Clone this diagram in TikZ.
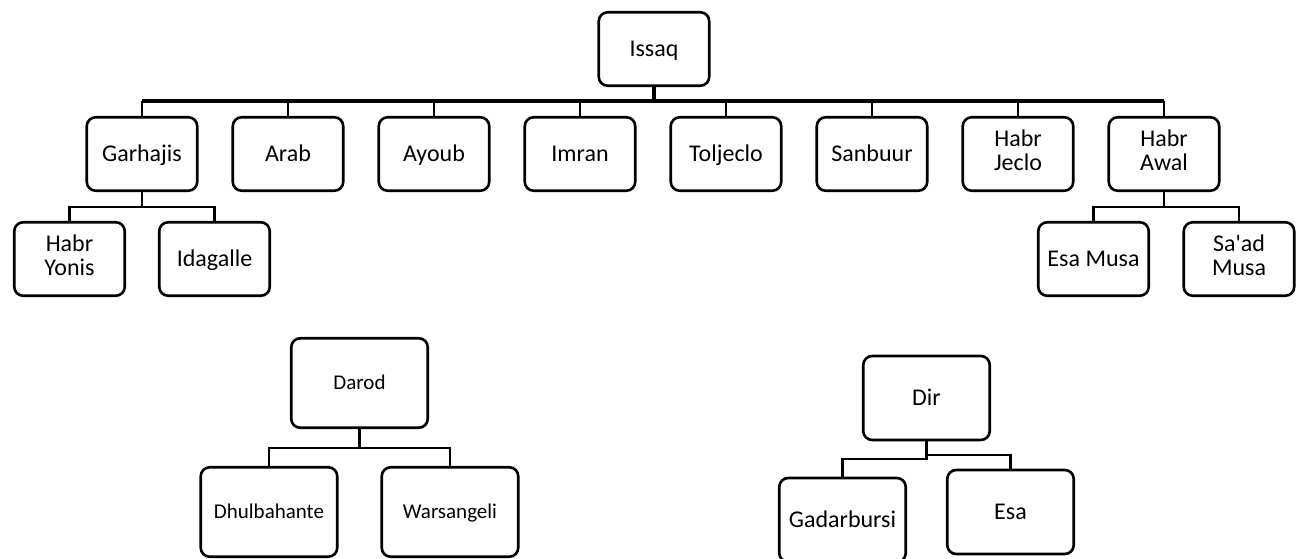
\documentclass[tikz,border=0pt]{standalone}
\usepackage{fontspec}
\setmainfont{Carlito}
\usepackage{tikz}
\usetikzlibrary{positioning, calc}

\tikzset{
  clan/.style={draw, line width=2.6pt, rounded corners=9pt, align=center,
    minimum width=110.5pt, minimum height=73.5pt, inner sep=2pt,
    font=\fontsize{24}{24.5}\selectfont,
    execute at begin node={\rule{0pt}{0.95em}},
    execute at end node={\rule[-0.31em]{0pt}{0.31em}}},
  bigclan/.style={clan, minimum width=136.5pt, minimum height=89.5pt,
    font=\fontsize{21}{23}\selectfont},
  dirclan/.style={clan, minimum width=126.5pt, minimum height=84pt},
  link/.style={line width=2.4pt},
  bus/.style={line width=3.8pt}
}

\begin{document}
\begin{tikzpicture}[x=1pt, y=-1pt]
\useasboundingbox (0,0) rectangle (1297,558);
% Issaq tree
\node[clan] (issaq) at (654,49) {Issaq};
\node[clan] (garhajis) at (142,154) {Garhajis};
\node[clan] (arab) at (288,154) {Arab};
\node[clan] (ayoub) at (434,154) {Ayoub};
\node[clan] (imran) at (580,154) {Imran};
\node[clan] (toljeclo) at (726,154) {Toljeclo};
\node[clan] (sanbuur) at (872,154) {Sanbuur};
\node[clan] (habrjeclo) at (1018,154) {Habr\\Jeclo};
\node[clan] (habrawal) at (1164,154) {Habr\\Awal};
\node[clan] (habryonis) at (69.5,259) {Habr\\Yonis};
\node[clan] (idagalle) at (214.5,259) {Idagalle};
\node[clan] (esamusa) at (1093.5,259) {Esa Musa};
\node[clan] (saadmusa) at (1239,259) {Sa\textquotesingle ad\\Musa};
\coordinate (bus) at (654,101);
\draw[bus] (issaq.south) -- (bus);
\draw[bus] (garhajis.north |- bus) -- (habrawal.north |- bus);
\foreach \n in {garhajis,arab,ayoub,imran,toljeclo,sanbuur,habrjeclo,habrawal}
  \draw[link] (\n.north) -- (\n.north |- bus);
% Garhajis and Habr Awal branches
\coordinate (gbar) at (142,207);
\draw[link] (garhajis.south) -- (gbar);
\draw[link] (habryonis.north) |- (gbar) -| (idagalle.north);
\coordinate (abar) at (1164,207);
\draw[link] (habrawal.south) -- (abar);
\draw[link] (esamusa.north) |- (abar) -| (saadmusa.north);
% Darod tree
\node[bigclan] (darod) at (359.5,383) {Darod};
\node[bigclan] (dhulbahante) at (269,512) {Dhulbahante};
\node[bigclan] (warsangeli) at (450,512) {Warsangeli};
\coordinate (dbar) at (359.5,448);
\draw[link] (darod.south) -- (dbar);
\draw[link] (dhulbahante.north) |- (dbar) -| (warsangeli.north);
% Dir tree
\node[dirclan] (dir) at (926.5,398) {Dir};
\node[dirclan] (gadarbursi) at (842.5,520) {Gadarbursi};
\node[dirclan] (esa) at (1010.5,512) {Esa};
\coordinate (rbar) at (926.5,455);
\coordinate (lbar) at (926.5,459);
\draw[link] (dir.south) -- (lbar) -| (gadarbursi.north);
\draw[link] (rbar) -| (esa.north);
\end{tikzpicture}
\end{document}
